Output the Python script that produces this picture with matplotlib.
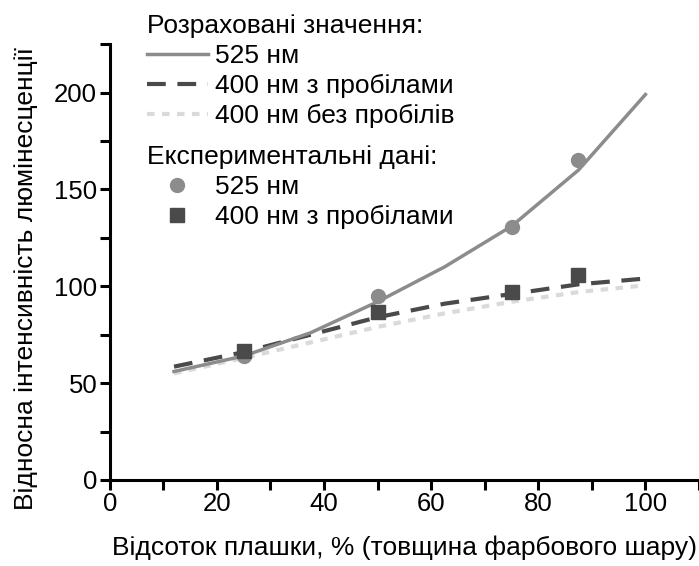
import matplotlib
matplotlib.use("Agg")
import matplotlib.pyplot as plt
from matplotlib.ticker import MultipleLocator

plt.rcParams['font.family'] = ['Liberation Sans', 'DejaVu Sans']

# Calculated curves
x_calc = [12, 25, 37.5, 50, 62.5, 75, 87.5, 100]
y_525_calc = [56, 64, 76, 92, 110, 131, 160, 199]
y_400_gaps_calc = [58.5, 66, 75, 84, 91, 96, 101, 104]
y_400_nogaps_calc = [55, 63, 71, 79, 86, 92, 97, 100.5]

# Experimental data
x_exp = [25, 50, 75, 87.5]
y_525_exp = [64, 95, 130.5, 165]
y_400_exp = [66.5, 86.5, 97, 106]

xticks = [0, 20, 40, 60, 80, 100]
yticks = [0, 50, 100, 150, 200]

xlabel = "Відсоток плашки, % (товщина фарбового шару)"
ylabel = "Відносна інтенсивність люмінесценції"
calc_title = "Розраховані значення:"
exp_title = "Експериментальні дані:"
calc_labels = ["525 нм", "400 нм з пробілами", "400 нм без пробілів"]
exp_labels = ["525 нм", "400 нм з пробілами"]

c_light = "#8c8c8c"
c_dark = "#4a4a4a"
c_pale = "#dadada"

FS = 19

fig = plt.figure(figsize=(6.99, 5.66), dpi=100)
ax = fig.add_axes([0.157, 0.152, 0.843, 0.770])

l3, = ax.plot(x_calc, y_400_nogaps_calc, color=c_pale, lw=3, linestyle=(0, (1.8, 1.8)))
l2, = ax.plot(x_calc, y_400_gaps_calc, color=c_dark, lw=3, linestyle=(0, (4.5, 2.8)))
l1, = ax.plot(x_calc, y_525_calc, color=c_light, lw=2.5)
m1, = ax.plot(x_exp, y_525_exp, 'o', color=c_light, ms=10, lw=0)
m2, = ax.plot(x_exp, y_400_exp, 's', color=c_dark, ms=10, lw=0)

ax.set_xlim(0, 110)
ax.set_ylim(0, 225)
ax.set_xticks(xticks)
ax.set_yticks(yticks)
ax.xaxis.set_minor_locator(MultipleLocator(10))
ax.yaxis.set_minor_locator(MultipleLocator(25))
for s in ['top', 'right']:
    ax.spines[s].set_visible(False)
for s in ['left', 'bottom']:
    ax.spines[s].set_linewidth(2.2)
ax.tick_params(which='both', direction='out', width=2.2, length=7, labelsize=18.5)
ax.tick_params(which='both', pad=2)

ax.set_xlabel(xlabel, fontsize=FS, labelpad=14)
ax.set_ylabel(ylabel, fontsize=FS)
ax.yaxis.set_label_coords(-0.122, 0.463)

common = dict(alignment='left', loc='upper left', frameon=False, fontsize=FS,
              title_fontproperties={'size': FS}, handlelength=2.3,
              handletextpad=0.27, borderpad=0, borderaxespad=0, labelspacing=0.23)
leg1 = ax.legend([l1, l2, l3], calc_labels, title=calc_title,
                 bbox_to_anchor=(0.063, 1.069), **common)
ax.add_artist(leg1)
leg2 = ax.legend([m1, m2], exp_labels, title=exp_title, numpoints=1,
                 bbox_to_anchor=(0.063, 0.769), **common)

fig.savefig("out.png", dpi=100)
